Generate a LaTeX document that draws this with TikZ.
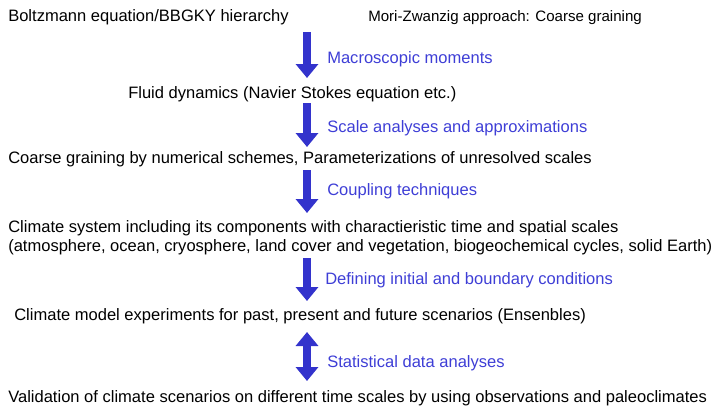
\documentclass[tikz,border=0pt]{standalone}
\usepackage{fontspec}
\setmainfont{Liberation Sans}
\usetikzlibrary{arrows.meta}

\definecolor{arrowblue}{RGB}{51,51,204}
\definecolor{labelblue}{RGB}{62,62,214}

\tikzset{
	stage/.style={anchor=base west, inner sep=0pt, font=\fontsize{12.4}{15}\selectfont},
	method/.style={stage, text=labelblue},
	bigarrow/.style={draw=arrowblue, line width=6pt, -{Triangle[width=16.5pt,length=10.5pt]}},
	bothways/.style={draw=arrowblue, line width=6pt, {Triangle[width=16.5pt,length=10.5pt]}-{Triangle[width=16.5pt,length=10.5pt]}}
}

\begin{document}
\begin{tikzpicture}[x=0.75pt,y=-0.75pt]
		\useasboundingbox (0,0) rectangle (720,411);

		% text of each level
		\node[stage] (boltz) at (8,21) {Boltzmann equation/BBGKY hierarchy};
		\node[stage, font=\fontsize{11.3}{14}\selectfont] (mori) at (368,21) {Mori-Zwanzig approach: Coarse graining};
		\node[stage] (fluid) at (128,98) {Fluid dynamics (Navier Stokes equation etc.)};
		\node[stage] (coarse) at (8,163) {Coarse graining by numerical schemes, Parameterizations of unresolved scales};
		\node[stage] (climsys) at (8,232) {Climate system including its components with charactieristic time and spatial scales};
		\node[stage] (climsub) at (8,251) {(atmosphere, ocean, cryosphere, land cover and vegetation, biogeochemical cycles, solid Earth)};
		\node[stage] (experim) at (14,320) {Climate model experiments for past, present and future scenarios (Ensenbles)};
		\node[stage] (valid) at (8,402) {Validation of climate scenarios on different time scales by using observations and paleoclimates};

		% methods between the levels
		\node[method] (moments) at (327,63) {Macroscopic moments};
		\node[method] (scales) at (327,132) {Scale analyses and approximations};
		\node[method] (coupling) at (327,195) {Coupling techniques};
		\node[method] (initcond) at (325,284) {Defining initial and boundary conditions};
		\node[method] (statist) at (327,367) {Statistical data analyses};

		% arrow ends
		\coordinate (a1top) at (307,32);
		\coordinate (a1bot) at (307,78);
		\coordinate (a2top) at (307,103);
		\coordinate (a2bot) at (307,147);
		\coordinate (a3top) at (307,170);
		\coordinate (a3bot) at (307,213);
		\coordinate (a4top) at (307,258);
		\coordinate (a4bot) at (307,301);
		\coordinate (a5top) at (307,332);
		\coordinate (a5bot) at (307,381);

		% Draw the arrows
		\draw[bigarrow] (a1top) -- (a1bot); % moments
		\draw[bigarrow] (a2top) -- (a2bot); % scales
		\draw[bigarrow] (a3top) -- (a3bot); % coupling
		\draw[bigarrow] (a4top) -- (a4bot); % initial conditions
		\draw[bothways] (a5top) -- (a5bot); % statistics

	\end{tikzpicture}
\end{document}
